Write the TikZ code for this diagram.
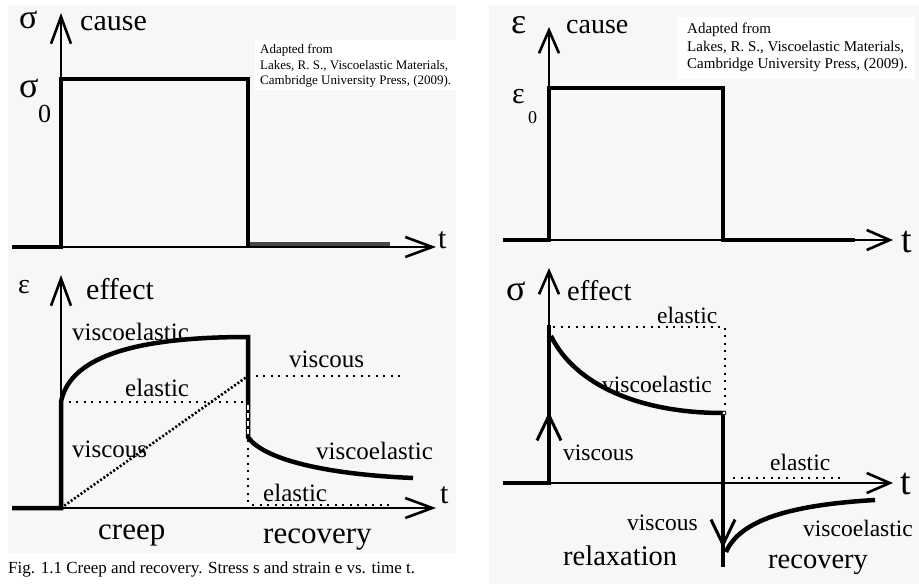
\documentclass[tikz,border=0pt]{standalone}
\usepackage{fontspec}
\setmainfont{Liberation Serif}
\usetikzlibrary{arrows.meta}
\definecolor{panelgray}{HTML}{F7F7F7}
\newcommand{\fs}[1]{\fontsize{#1}{#1}\selectfont}

\begin{document}
\begin{tikzpicture}[
  x = 1pt, y = -1pt,
  > = {Straight Barb[length=27pt,width=20pt,line width=2.6pt]},
  small arrow/.style = {> = {Straight Barb[length=23pt,width=20pt,line width=2.6pt]}},
  axis/.style = {line width=1.8pt},
  thickline/.style = {line width=4.5pt,line join=miter},
  dotline/.style = {line width=2pt,dash pattern=on 2pt off 5.5pt},
  txt/.style = {anchor=base west,inner sep=0pt},
  note/.style = {anchor=base west,inner sep=0pt,align=left}
  ]
  \useasboundingbox (0,0) rectangle (919,584);
  \fill[white] (0,0) rectangle (919,584);
  \fill[panelgray] (8,5) rectangle (456,553);
  \fill[panelgray] (489,5) rectangle (919,584);
  \fill[white] (255,40) rectangle (456,90);
  \fill[white] (677,17) rectangle (915,79);

  % creep: cause
  \draw[axis,->] (61,247) -- (61,13);
  \draw[axis,->] (61,247) -- (436,247);
  \draw[thickline] (12,247) -- (61,247) -- (61,79) -- (248,79) -- (248,247);
  \draw[line width=4pt,black!72] (250,244) -- (390,244);
  \node[txt,font=\fs{34}] (sigL) at (19,28) {σ};
  \node[txt,font=\fs{30}] (causeL) at (80,30) {cause};
  \node[txt,font=\fs{36}] (sigL0) at (19,97) {σ};
  \node[txt,font=\fs{26}] (sigL0sub) at (38,122) {0};
  \node[txt,font=\fs{30}] (tL) at (438,248) {t};
  \node[txt,font=\fs{13}] (noteL1) at (260,53) {Adapted from};
  \node[txt,font=\fs{13}] (noteL2) at (260,69) {Lakes, R. S., Viscoelastic Materials,};
  \node[txt,font=\fs{13}] (noteL3) at (260,84) {Cambridge University Press, (2009).};

  % creep: effect
  \draw[axis,->] (61,508) -- (61,275);
  \draw[axis,->] (61,508) -- (436,508);
  \draw[dotline] (61,402) -- (248,402);
  \draw[line width=2.6pt,dash pattern=on 2pt off 2pt] (61,508) -- (248,376);
  \draw[dotline] (248,376) -- (405,376);
  \draw[dotline] (248,440) -- (248,508);
  \draw[dotline] (252,505) -- (390,505);
  \draw[thickline] (12,508) -- (61,508) -- (61,402)
    .. controls (70,355) and (140,337) .. (248,337) -- (248,437)
    .. controls (262,458) and (320,474) .. (413,478);
  \draw[white,line width=1.4pt,dash pattern=on 5pt off 3pt] (248,405) -- (248,435);
  \node[txt,font=\fs{28}] (epsL) at (18,293) {ε};
  \node[txt,font=\fs{30}] (effectL) at (86,299) {effect};
  \node[txt,font=\fs{25}] (veL1) at (72,340) {viscoelastic};
  \node[txt,font=\fs{25}] (vL1) at (289,367) {viscous};
  \node[txt,font=\fs{25}] (elL1) at (125,396) {elastic};
  \node[txt,font=\fs{25}] (vL2) at (72,457) {viscous};
  \node[txt,font=\fs{25}] (veL2) at (316,459) {viscoelastic};
  \node[txt,font=\fs{25}] (elL2) at (263,501) {elastic};
  \node[txt,font=\fs{30}] (tL2) at (440,503) {t};
  \node[txt,font=\fs{31}] (creep) at (98,539) {creep};
  \node[txt,font=\fs{31}] (recovL) at (263,543) {recovery};
  \node[txt,font=\fs{17}] (caption) at (8,573) {Fig. 1.1 Creep and recovery. Stress s and strain e vs. time t.};

  % relaxation: cause
  \begin{scope}[small arrow]
    \draw[axis,->] (549,240) -- (549,27);
    \draw[axis,->] (549,240) -- (893,240);
    \draw[thickline] (503,240) -- (549,240) -- (549,88) -- (723,88) -- (723,240) -- (855,240);
    \node[txt,font=\fs{36}] (epsR) at (511,33) {ε};
    \node[txt,font=\fs{28}] (causeR) at (566,33) {cause};
    \node[txt,font=\fs{30}] (epsR0) at (512,103) {ε};
    \node[txt,font=\fs{18}] (epsR0sub) at (528,123) {0};
    \node[txt,font=\fs{38}] (tR) at (901,252) {t};
    \node[txt,font=\fs{15}] (noteR1) at (687,33) {Adapted from};
    \node[txt,font=\fs{15}] (noteR2) at (687,51) {Lakes, R. S., Viscoelastic Materials,};
    \node[txt,font=\fs{15}] (noteR3) at (687,68) {Cambridge University Press, (2009).};

    % relaxation: effect
    \draw[axis,->] (549,483) -- (549,268);
    \draw[axis,->] (549,483) -- (893,483);
  \end{scope}
  \draw[dotline] (553,327) -- (725,327) -- (725,410);
  \draw[dotline] (733,478) -- (840,478);
  \draw[thickline] (503,483) -- (549,483) -- (549,325);
  \draw[thickline,-{Straight Barb[length=25pt,width=24pt,line width=3pt]}] (549,483) -- (549,412);
  \draw[thickline] (551,336) .. controls (575,385) and (640,413) .. (723,413);
  \draw[thickline] (723,413) -- (723,567);
  \draw[thickline,-{Straight Barb[length=25pt,width=24pt,line width=3pt]}] (723,413) -- (723,548);
  \draw[thickline] (726,552) .. controls (740,520) and (790,505) .. (875,500);
  \draw[fill=white,line width=0.8pt] (724,413) circle (2pt);
  \node[txt,font=\fs{36}] (sigR) at (506,300) {σ};
  \node[txt,font=\fs{28.5}] (effectR) at (567,300) {effect};
  \node[txt,font=\fs{23.5}] (elR1) at (657,323) {elastic};
  \node[txt,font=\fs{23.5}] (veR1) at (602,392) {viscoelastic};
  \node[txt,font=\fs{23.5}] (vR1) at (563,460) {viscous};
  \node[txt,font=\fs{23.5}] (elR2) at (770,470) {elastic};
  \node[txt,font=\fs{38}] (tR2) at (900,494) {t};
  \node[txt,font=\fs{23.5}] (vR2) at (627,530) {viscous};
  \node[txt,font=\fs{23.5}] (veR2) at (803,536) {viscoelastic};
  \node[txt,font=\fs{28.5}] (relax) at (563,565) {relaxation};
  \node[txt,font=\fs{28.5}] (recovR) at (768,568) {recovery};
\end{tikzpicture}
\end{document}
